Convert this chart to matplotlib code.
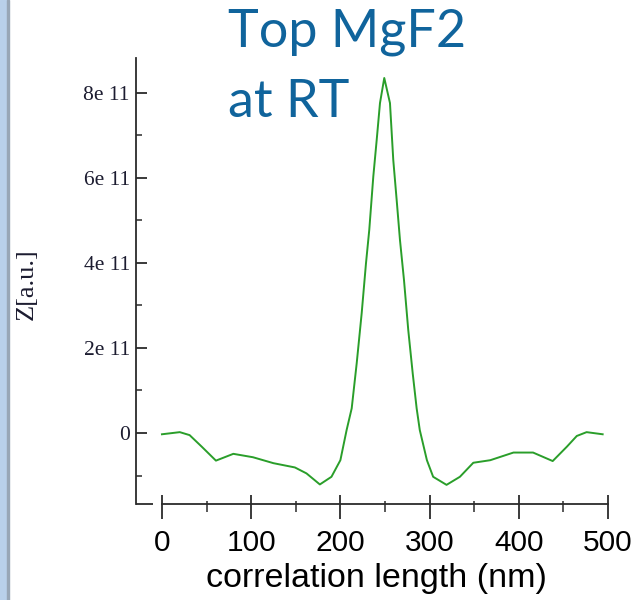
import matplotlib
matplotlib.use('Agg')
import matplotlib.pyplot as plt
from matplotlib.patches import Rectangle
from matplotlib.ticker import FixedLocator
import numpy as np

# correlation length (nm) and Z (in units of 1e11)
length_nm = [0, 20, 31, 44.5, 60.5, 80, 102, 125, 149, 162, 177, 190, 200, 207,
             212.7, 218.3, 223.9, 228.7, 232.4, 236.9, 240.7, 244.4, 249.2,
             255.6, 259.3, 263.1, 266.8, 271.3, 276.1, 281.1, 285.5, 289, 297,
             304, 319, 334, 349, 368, 394, 416, 438, 454, 465, 476, 494]
z_e11 = [-0.03, 0.02, -0.05, -0.32, -0.65, -0.49, -0.57, -0.71, -0.81, -0.95,
         -1.21, -1.03, -0.64, 0.07, 0.58, 1.64, 2.82, 3.99, 4.78, 6.03, 6.89,
         7.76, 8.35, 7.76, 6.42, 5.48, 4.54, 3.60, 2.42, 1.40, 0.58, 0.07,
         -0.64, -1.03, -1.22, -1.03, -0.70, -0.64, -0.46, -0.46, -0.66, -0.32,
         -0.07, 0.02, -0.03]

xticks = [0, 100, 200, 300, 400, 500]
xminor = [50, 150, 250, 350, 450]
yticks = [0, 2e11, 4e11, 6e11, 8e11]
ytick_labels = ['0', '2e 11', '4e 11', '6e 11', '8e 11']
yminor = [-1e11, 1e11, 3e11, 5e11, 7e11]

axcol = '#2b2b2b'
W, H = 639, 600

fig = plt.figure(figsize=(W / 100, H / 100), dpi=100)

# window edge on the left
fig.patches.append(Rectangle((0, 0), 7 / W, 1, transform=fig.transFigure,
                             color='#b9d0ea', zorder=0))
fig.patches.append(Rectangle((7 / W, 0), 1.5 / W, 1, transform=fig.transFigure,
                             color='#98a6b6', zorder=0))

ax = fig.add_axes([136 / W, 1 - 504 / H, (608 - 136) / W, (504 - 58) / H])
ax.plot(length_nm, np.array(z_e11) * 1e11, color='#2a9e2a', lw=1.4)
ax.set_xlim(-29.1, 500)
ax.set_ylim(-1.67e11, 8.82e11)

for s in ['top', 'right']:
    ax.spines[s].set_visible(False)
ax.spines['bottom'].set_bounds(0, 500)
for s in ['left', 'bottom']:
    ax.spines[s].set_color(axcol)
    ax.spines[s].set_linewidth(1.3)

# y axis: ticks pointing in, serif labels
ax.set_yticks(yticks, labels=ytick_labels)
ax.yaxis.set_minor_locator(FixedLocator(yminor))
ax.tick_params(axis='y', which='major', direction='in', length=8, width=1.3,
               color=axcol, pad=4.5, labelsize=15.5, labelcolor='#1c1c30')
ax.tick_params(axis='y', which='minor', direction='in', length=4.3, width=1.1,
               color=axcol)
for t in ax.get_yticklabels():
    t.set_family('Liberation Serif')

# x axis: ticks crossing the line
ax.set_xticks(xticks)
ax.xaxis.set_minor_locator(FixedLocator(xminor))
ax.tick_params(axis='x', which='major', direction='out', length=10.8, width=1.3,
               color=axcol, pad=7.5, labelsize=21.5, labelcolor='black')
ax.tick_params(axis='x', which='minor', direction='out', length=6, width=1.1,
               color=axcol)
for t in ax.get_xticklabels():
    t.set_family('Liberation Sans')

sec = ax.secondary_xaxis(0)
sec.set_xticks(xticks, labels=[])
sec.xaxis.set_minor_locator(FixedLocator(xminor))
sec.tick_params(axis='x', which='major', direction='in', length=6.7, width=1.3,
                color=axcol)
sec.tick_params(axis='x', which='minor', direction='in', length=2.4, width=1.1,
                color=axcol)
for s in sec.spines.values():
    s.set_visible(False)

# small stub at the foot of the y axis
ax.plot([0, 17 / 472], [0, 0], transform=ax.transAxes, color=axcol, lw=1.3,
        clip_on=False, solid_capstyle='butt')

fig.text(27 / W, 1 - 284 / H, 'Z[a.u.]', rotation=90, ha='center', va='center',
         family='Liberation Serif', fontsize=19, color='#1c1c30')
fig.text(376 / W, 1 - 587 / H, 'correlation length (nm)', ha='center',
         va='baseline', family='Liberation Sans', fontsize=24.5, color='black')

fig.text(228 / W, 1 - 47 / H, 'Top MgF2', ha='left', va='baseline',
         family='Lato', fontsize=37.5, color='#10649c')
fig.text(228 / W, 1 - 117 / H, 'at RT', ha='left', va='baseline',
         family='Lato', fontsize=37.5, color='#10649c')

fig.savefig('out.png', dpi=100)
